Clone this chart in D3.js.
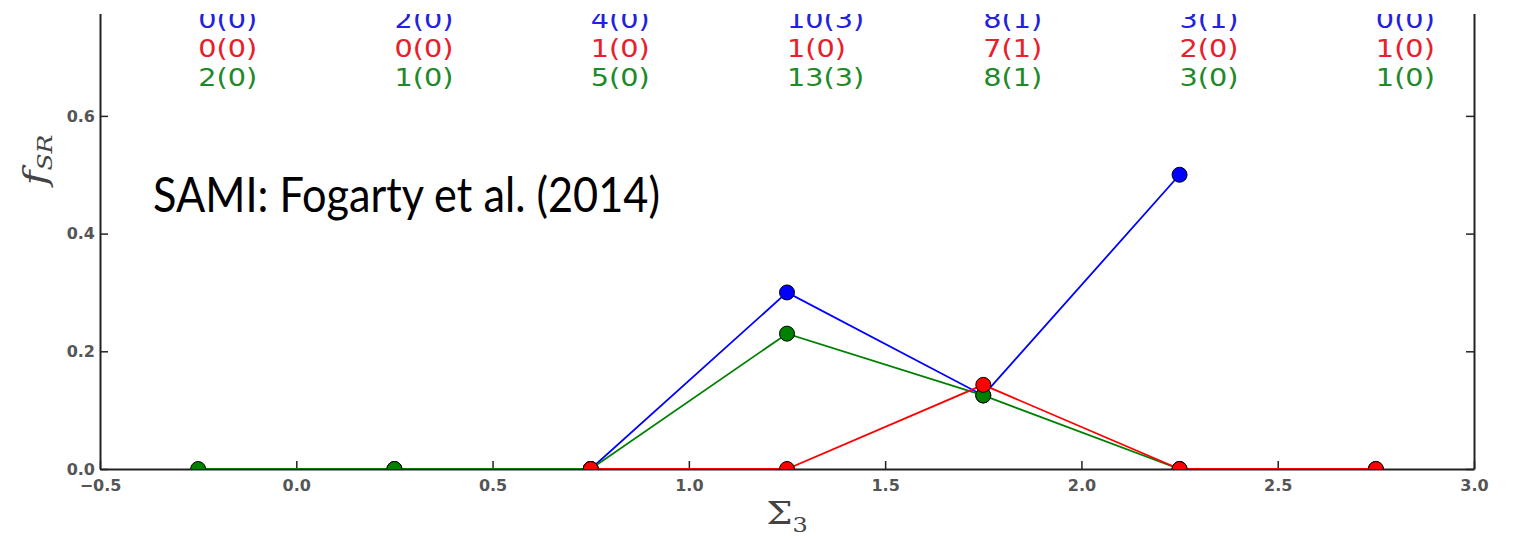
<!DOCTYPE html>
<html>
<head>
<meta charset="utf-8">
<script src="https://cdn.jsdelivr.net/npm/d3@7"></script>
<style>
  html, body { margin: 0; padding: 0; background: #fff; }
  svg { display: block; }
</style>
</head>
<body>
<svg id="chart" width="1517" height="538"></svg>
<script>
// ---- data ----
const binCenters = [-0.25, 0.25, 0.75, 1.25, 1.75, 2.25, 2.75];
const blueValues  = [null, 0, 0, 0.30, 0.125, 0.50, null];
const redValues   = [null, null, 0, 0, 0.143, 0, 0];
const greenValues = [0, 0, 0, 0.23, 0.125, 0, 0];
const blueCounts  = ["0(0)", "2(0)", "4(0)", "10(3)", "8(1)", "3(1)", "0(0)"];
const redCounts   = ["0(0)", "0(0)", "1(0)", "1(0)", "7(1)", "2(0)", "1(0)"];
const greenCounts = ["2(0)", "1(0)", "5(0)", "13(3)", "8(1)", "3(0)", "1(0)"];
const countRowY   = [0.75, 0.70, 0.65];
const xTicks = [-0.5, 0.0, 0.5, 1.0, 1.5, 2.0, 2.5, 3.0];
const yTicks = [0.0, 0.2, 0.4, 0.6];
const annotation = "SAMI: Fogarty et al. (2014)";

// ---- layout ----
const svg = d3.select("#chart");
const W = 1517, H = 538;
const left = 100, right = 1474, bottom = 469;
const x = d3.scaleLinear().domain([-0.5, 3.0]).range([left, right]);
const y = d3.scaleLinear().domain([0, 0.8]).range([bottom, bottom - 0.8 * 588.5]);

svg.append("rect").attr("width", W).attr("height", H).attr("fill", "#fff");

const defs = svg.append("defs");
defs.append("clipPath").attr("id", "pageClip")
  .append("rect").attr("x", 0).attr("y", 14).attr("width", W).attr("height", H - 14);
defs.append("clipPath").attr("id", "plotClip")
  .append("rect").attr("x", left).attr("y", y(0.8)).attr("width", right - left).attr("height", bottom - y(0.8));

const g = svg.append("g").attr("clip-path", "url(#pageClip)");

// ---- axes ----
const axisColor = "#222";
const tickFont = "DejaVu Sans, sans-serif";
function styleAxis(sel) {
  sel.select(".domain").attr("stroke", axisColor).attr("stroke-width", 2);
  sel.selectAll(".tick line").attr("stroke", axisColor).attr("stroke-width", 1.5);
  sel.selectAll(".tick text").attr("fill", "#555").attr("font-family", tickFont)
    .attr("font-weight", "bold").attr("font-size", 16);
}
const xAxis = g.append("g").attr("transform", `translate(0,${bottom})`)
  .call(d3.axisBottom(x).tickValues(xTicks).tickSize(-8).tickSizeOuter(0).tickPadding(11)
    .tickFormat(d => d3.format(".1f")(d).replace("-", "\u2212")));
styleAxis(xAxis);
const yAxis = g.append("g").attr("transform", `translate(${left},0)`)
  .call(d3.axisLeft(y).tickValues(yTicks).tickSize(-8).tickSizeOuter(0).tickPadding(5)
    .tickFormat(d3.format(".1f")));
styleAxis(yAxis);
const yRight = g.append("g").attr("transform", `translate(${right},0)`)
  .call(d3.axisRight(y).tickValues(yTicks).tickSize(-8).tickSizeOuter(0).tickFormat(""));
styleAxis(yRight);

// ---- series ----
const series = [
  { values: blueValues,  color: "#0000ff" },
  { values: greenValues, color: "#008000" },
  { values: redValues,   color: "#ff0000" }
];
const plot = g.append("g").attr("clip-path", "url(#plotClip)");
const line = d3.line()
  .defined(d => d.v !== null)
  .x(d => x(d.c)).y(d => y(d.v));
series.forEach(s => {
  const pts = binCenters.map((c, i) => ({ c, v: s.values[i] }));
  plot.append("path").datum(pts)
    .attr("fill", "none").attr("stroke", s.color).attr("stroke-width", 1.8)
    .attr("d", line);
  plot.selectAll(null).data(pts.filter(d => d.v !== null)).enter()
    .append("circle")
    .attr("cx", d => x(d.c)).attr("cy", d => y(d.v)).attr("r", 7.5)
    .attr("fill", s.color).attr("stroke", "#000").attr("stroke-width", 1);
});

// ---- count labels ----
const countRows = [
  { labels: blueCounts,  color: "#2222dd", yv: countRowY[0] },
  { labels: redCounts,   color: "#e8202a", yv: countRowY[1] },
  { labels: greenCounts, color: "#1f8a2a", yv: countRowY[2] }
];
countRows.forEach(r => {
  g.selectAll(null).data(binCenters).enter().append("text")
    .attr("transform", (c) => `translate(${x(c)},${y(r.yv)}) scale(1.15,1)`)
    .attr("font-family", tickFont).attr("font-size", 25)
    .attr("fill", r.color)
    .text((c, i) => r.labels[i]);
});

// ---- axis labels ----
const yl = g.append("text")
  .attr("transform", `translate(46,160) rotate(-90) scale(1.25,1)`)
  .attr("text-anchor", "middle")
  .attr("font-family", "DejaVu Serif, serif").attr("font-style", "italic")
  .attr("fill", "#444");
yl.append("tspan").attr("font-size", 32).text("f");
yl.append("tspan").attr("font-size", 20).attr("dy", 6).text("SR");

const xl = g.append("text")
  .attr("transform", `translate(${(left + right) / 2},524) scale(1.2,1)`)
  .attr("text-anchor", "middle")
  .attr("font-family", "DejaVu Serif, serif")
  .attr("fill", "#444");
xl.append("tspan").attr("font-size", 31).text("\u03A3");
xl.append("tspan").attr("font-size", 20).attr("dy", 8).text("3");

// ---- annotation ----
g.append("text")
  .attr("x", 153).attr("y", 212)
  .attr("font-family", "Lato, 'Open Sans', sans-serif").attr("font-size", 48)
  .attr("fill", "#000")
  .attr("textLength", 507).attr("lengthAdjust", "spacingAndGlyphs")
  .text(annotation);
</script>
</body>
</html>
